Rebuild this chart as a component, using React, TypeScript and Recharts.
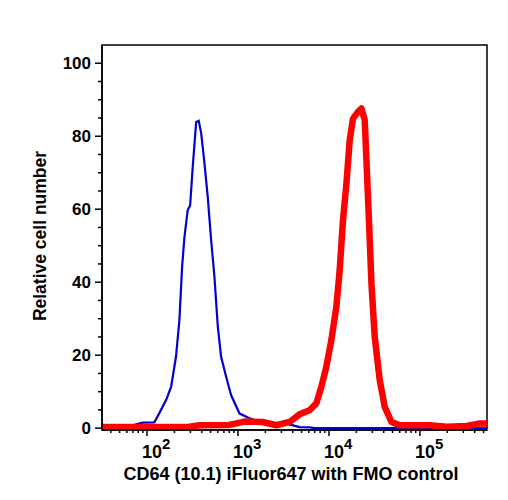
import React from 'react';
import { LineChart, Line, XAxis, YAxis, ReferenceArea } from 'recharts';

// FMO control (blue) — fluorescence intensity and relative cell number
const blueIntensity = [32, 38, 64, 89, 120, 130, 162, 184, 208, 227, 243, 258, 280, 298, 318, 347, 370, 394, 428, 465, 507, 551, 600, 653, 741, 841, 1040, 1340, 1730, 2220, 2640, 3110, 3850, 4750, 6120, 6970, 546000];
const blueCount = [1.0, 0.6, 0.5, 1.5, 1.6, 3.1, 7.7, 11.3, 19.5, 29.6, 44.2, 52.4, 59.7, 61.1, 71.6, 83.9, 84.2, 80.8, 72.6, 63.4, 51.5, 41.5, 27.8, 19.5, 14.1, 9.0, 4.0, 2.7, 1.7, 0.8, 0.4, 1.3, 0.9, 0.3, 0.2, 0, 0];

// CD64 (10.1) iFluor647 stained (red)
const redIntensity = [32, 106, 292, 377, 805, 1180, 1860, 2650, 3690, 4750, 6120, 7260, 8240, 9350, 10620, 12050, 13120, 14260, 15560, 16900, 18370, 20840, 22750, 24720, 26180, 27610, 29310, 31840, 36140, 41020, 48640, 60120, 128500, 196300, 325800, 457100, 546000];
const redCount = [0.3, 0.3, 0.4, 0.8, 0.9, 1.8, 1.7, 0.8, 1.7, 3.8, 4.9, 6.8, 11.3, 16.8, 24.1, 33.2, 43.3, 57.0, 67.0, 78.9, 84.8, 86.7, 87.6, 84.4, 69.8, 56.1, 39.6, 25.0, 13.2, 5.8, 1.7, 0.8, 0.8, 0.4, 0.6, 1.3, 1.3];

const xDomain = [32, 546000];
const yDomain = [-0.5, 105];
const xMajorTicks = [100, 1000, 10000, 100000];
const xMinorTicks = [
  40, 50, 60, 70, 80, 90,
  200, 300, 400, 500, 600, 700, 800, 900,
  2000, 3000, 4000, 5000, 6000, 7000, 8000, 9000,
  20000, 30000, 40000, 50000, 60000, 70000, 80000, 90000,
  200000, 300000, 400000, 500000,
];
const yTicks = [0, 5, 10, 15, 20, 25, 30, 35, 40, 45, 50, 55, 60, 65, 70, 75, 80, 85, 90, 95, 100];
const yMajorTicks = [0, 20, 40, 60, 80, 100];

const xTitle = 'CD64 (10.1) iFluor647 with FMO control';
const yTitle = 'Relative cell number';

const blueData = blueIntensity.map((x, i) => ({ x, y: blueCount[i] }));
const redData = redIntensity.map((x, i) => ({ x, y: redCount[i] }));

const FONT = '"Liberation Sans", Arial, Helvetica, sans-serif';

const XTick = (props: any) => {
  const { x, y, payload } = props;
  const v = payload.value as number;
  const major = xMajorTicks.includes(v);
  const exp = Math.round(Math.log10(v));
  return (
    <g>
      <line x1={x} x2={x} y1={y} y2={y + (major ? 6 : 3)} stroke="#000" strokeWidth={1.5} />
      {major && (
        <text x={x - 5} y={y + 28} fontFamily={FONT} fontWeight="bold" fontSize={18} fill="#000">
          10
          <tspan dy={-9} fontSize={15}>{exp}</tspan>
        </text>
      )}
    </g>
  );
};

const YTick = (props: any) => {
  const { x, y, payload } = props;
  const v = payload.value as number;
  const major = yMajorTicks.includes(v);
  return (
    <g>
      <line x1={x} x2={x - (major ? 7 : 4)} y1={y} y2={y} stroke="#000" strokeWidth={1.5} />
      {major && (
        <text x={x - 11} y={y + 6} textAnchor="end" fontFamily={FONT} fontWeight="bold" fontSize={17} fill="#000">
          {v}
        </text>
      )}
    </g>
  );
};

export default function App() {
  return (
    <div style={{ position: 'absolute', left: 0, top: 0, width: 508, height: 500, background: '#fff' }}>
      <LineChart width={508} height={500} margin={{ top: 45, right: 21, left: 0, bottom: 0 }}>
        <XAxis
          dataKey="x"
          type="number"
          scale="log"
          domain={xDomain}
          allowDataOverflow
          ticks={[...xMajorTicks, ...xMinorTicks]}
          interval={0}
          tick={<XTick />}
          tickLine={false}
          tickSize={0}
          tickMargin={0}
          height={70}
          axisLine={{ stroke: '#000', strokeWidth: 1.5 }}
          label={{
            content: () => (
              <text x={291} y={480} textAnchor="middle" fontFamily={FONT} fontWeight="bold" fontSize={18} fill="#000">
                {xTitle}
              </text>
            ),
          }}
        />
        <YAxis
          type="number"
          domain={yDomain}
          allowDataOverflow
          ticks={yTicks}
          interval={0}
          tick={<YTick />}
          tickLine={false}
          tickSize={0}
          tickMargin={0}
          width={102}
          axisLine={{ stroke: '#000', strokeWidth: 1.5 }}
          label={{
            content: () => (
              <text
                x={46}
                y={236}
                textAnchor="middle"
                transform="rotate(-90 46 236)"
                fontFamily={FONT}
                fontWeight="bold"
                fontSize={17.5}
                fill="#000"
              >
                {yTitle}
              </text>
            ),
          }}
        />
        <ReferenceArea x1={xDomain[0]} x2={xDomain[1]} y1={yDomain[0]} y2={yDomain[1]} fill="none" stroke="#000" strokeWidth={1.5} />
        <Line data={blueData} dataKey="y" type="linear" stroke="#0000d0" strokeWidth={2.2} dot={false} isAnimationActive={false} />
        <Line data={redData} dataKey="y" type="linear" stroke="#ff0000" strokeWidth={6.5} strokeLinejoin="round" dot={false} isAnimationActive={false} />
      </LineChart>
    </div>
  );
}
